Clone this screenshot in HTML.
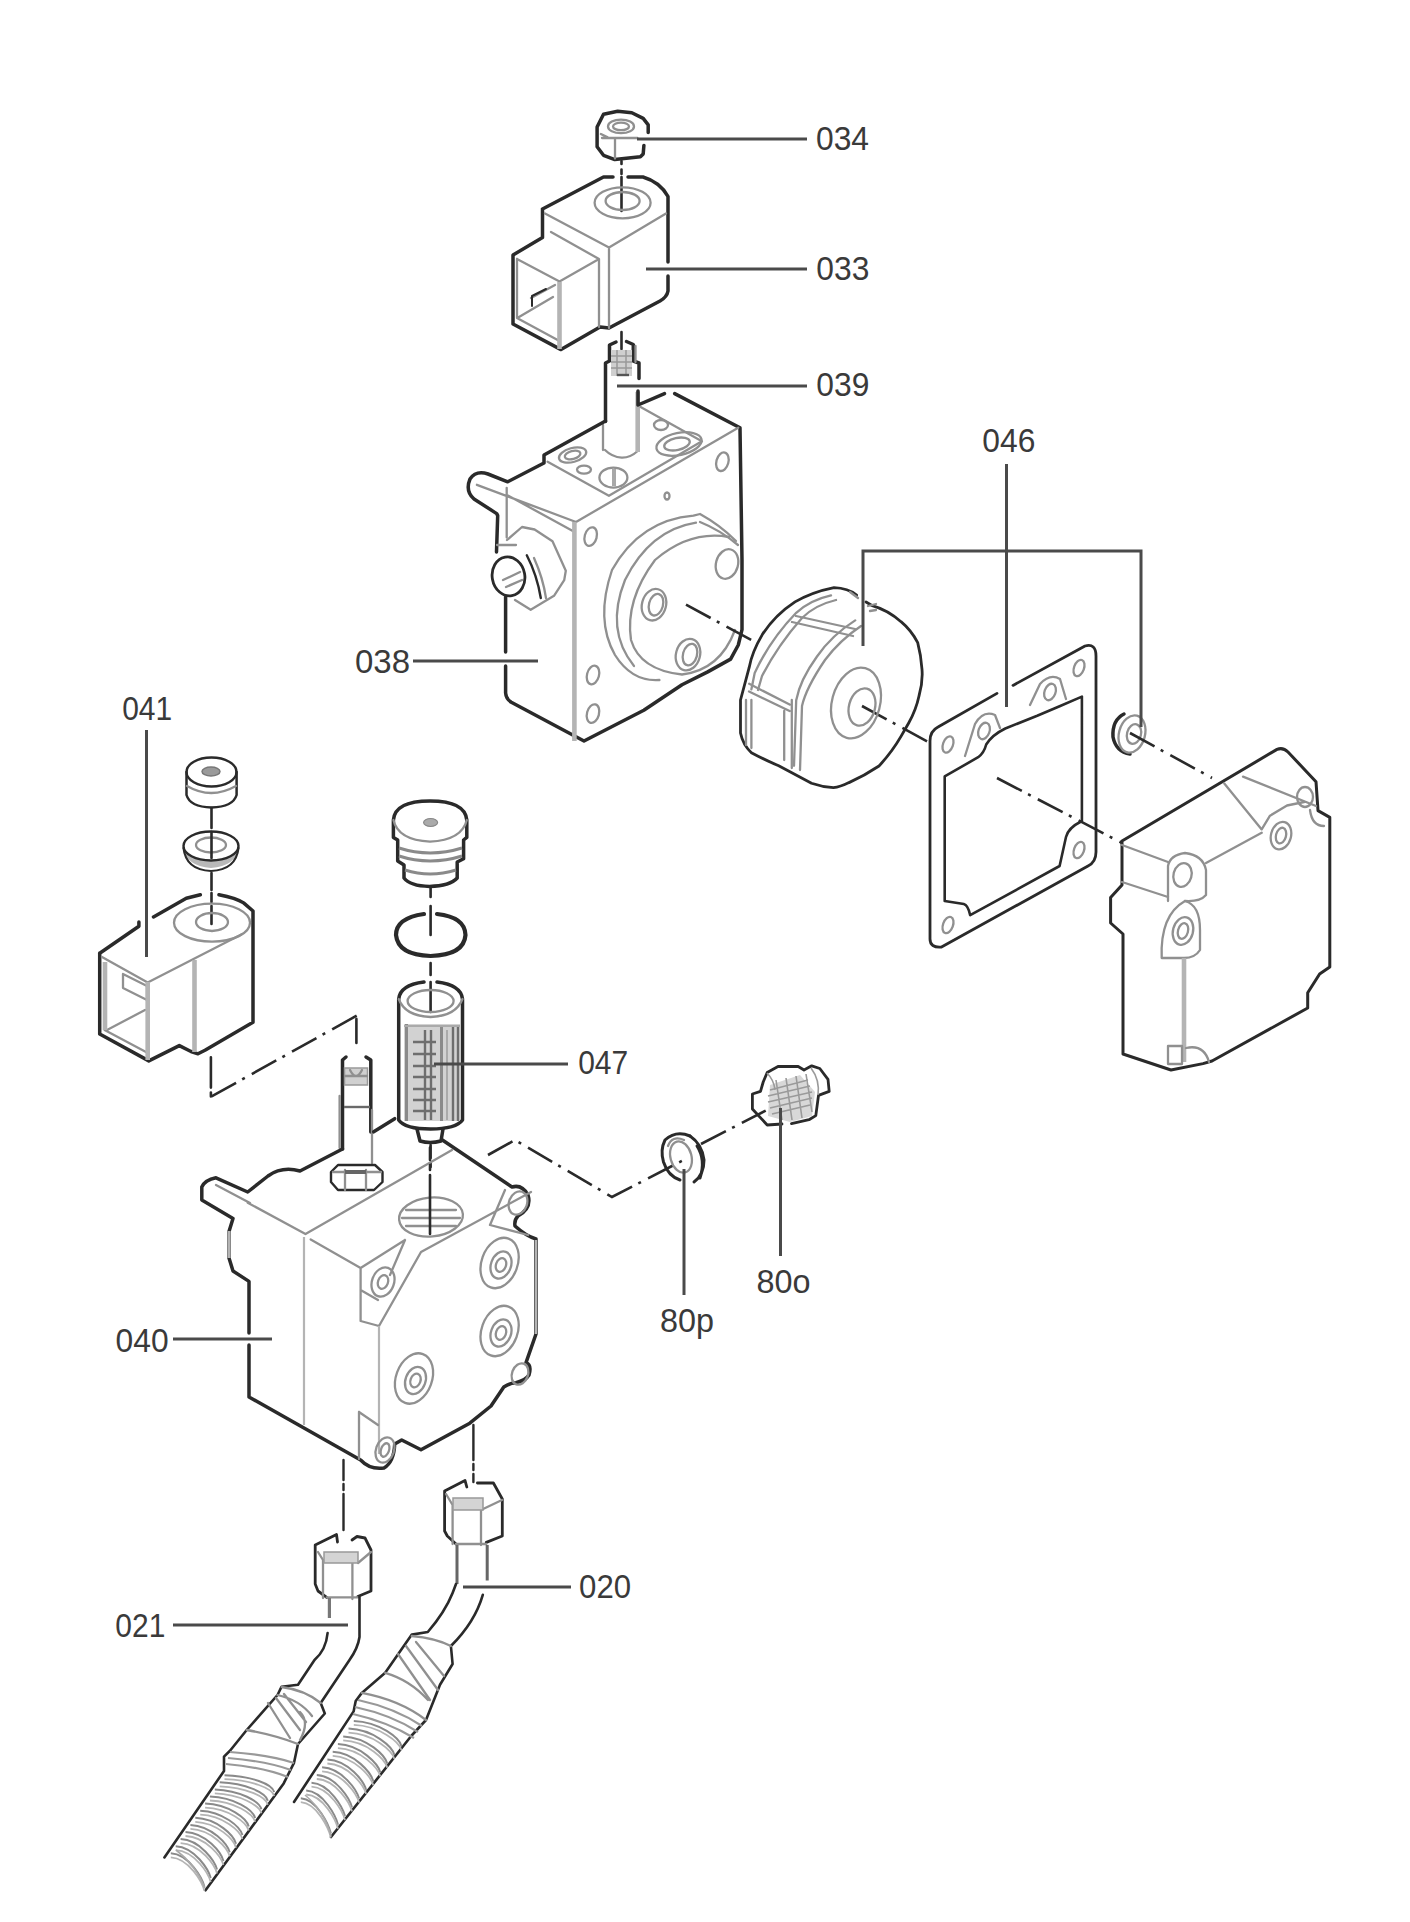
<!DOCTYPE html>
<html><head><meta charset="utf-8">
<style>
html,body{margin:0;padding:0;background:#fff;}
body{width:1410px;height:1922px;overflow:hidden;}
svg{display:block;}
.o{fill:none;stroke:#2a2a2a;stroke-width:3.5;stroke-linejoin:round;stroke-linecap:round;}
.f{fill:#fff;stroke:#1c1c1c;stroke-width:3.2;stroke-linejoin:round;stroke-linecap:round;}
.i{fill:none;stroke:#909090;stroke-width:2.3;stroke-linejoin:round;stroke-linecap:round;}
.g{fill:none;stroke:#b4b4b4;stroke-width:4.6;stroke-linecap:butt;}
.l{fill:none;stroke:#4a4a4a;stroke-width:3;}
.c{fill:none;stroke:#2a2a2a;stroke-width:2.6;stroke-dasharray:28 7 3 8;}
text{font-family:"Liberation Sans",sans-serif;font-size:33px;fill:#3a3a3a;}
</style></head><body>
<svg width="1410" height="1922" viewBox="0 0 1410 1922">

<!-- 034 NUT -->
<g id="p034">
<path class="o" d="M648.2 132.6 V124.8 L643.2 118.4 L631.8 112.8 L617.7 111.3 L603.5 114.2 L597.1 127 V146.8 L603.5 155.3 L614.8 159.6 L640.4 156.7 L643.2 153.9 L643.9 145.4"/>
<ellipse class="i" cx="621" cy="126.4" rx="13" ry="6.8"/>
<ellipse class="i" cx="621" cy="126.4" rx="8" ry="3.8"/>
<path class="i" d="M602 138 H637.4 M615 139 V158.5 M600.9 134 L607.7 137.4"/>
</g>
<!-- center line top -->
<path class="o" style="stroke-width:2.6" d="M621.5 161V164 M621.5 169.5V174 M621.5 177V211 M621.5 332V349"/>
<!-- 033 COIL -->
<g id="p033">
<path class="o" d="M542.5 209 L603.5 177 L613 177 M628 177 L643 177 Q660 182 668 196.5 L668 262 M668 276 L668 291 Q667 297 660 301 L609 328 L600 327 L561 349.6 L513 324 L513 255 L542.5 237.6 L542.5 209"/>
<path class="i" d="M545 213.5 L609 247.5 L666 213.5 M609 247.5 V328 M551 232 L599 259 V327 M517 259 L559.5 281.5 L599 259 M517 259 V318 L559.5 341 M531 298 L555 285 M519 317 L553 297"/>
<path class="g" d="M559.5 282 V349"/>
<ellipse class="i" cx="622.6" cy="202.8" rx="28" ry="15.5"/>
<ellipse class="i" cx="622.6" cy="201" rx="17" ry="9"/>
<path class="o" style="stroke-width:2" d="M532 306 L532 296 L546 289"/>
</g>
<!-- 039 STEM -->
<g id="p039">
<path class="o" d="M616 342 L609.5 345 V361 L605.5 363 V421.5"/>
<path class="o" d="M626.5 341.5 L633.3 344.5 V361 L639 363 V378.6"/>
<rect x="611" y="350" width="21" height="26" fill="#cfcfcf" stroke="none"/>
<path fill="none" stroke="#999" stroke-width="1.5" d="M611 356 H632 M611 362 H632 M611 368 H632 M617 350 V376 M626 350 V376"/>
<path fill="none" stroke="#555" stroke-width="2.4" d="M617 375 H629"/>
<path class="i" d="M635.5 346 V362 M603 425 V450 M637.7 391.7 V451 Q630 458 621.7 457.7 Q612 457 605 450"/>
<path class="g" d="M637.7 392 V452"/>
</g>
<!-- 038 PUMP -->
<g id="p038">
<path class="o" d="M605.5 421 L544 455 L544 463 L507.7 481.8 L488 474 Q476 470 470 479 Q465 491 474 499 L496.7 513.6 L497.7 515.6 L496.5 552"/>
<path class="o" d="M505.6 597 V652 M505.6 666 V693 Q506 699 511.3 702.3 L584 741 L643.8 710.2 L682 684.7 L707.7 671.9 L730.6 659.1 L738.3 645 L742 629.7 L742 560 L740 427.7 L674.7 393.6 M664.5 393.6 L638 405 V391"/>
<ellipse class="o" style="stroke-width:2.8" cx="508.5" cy="576.4" rx="16.3" ry="19.6" transform="rotate(-10 508.5 576.4)"/>

<path class="i" d="M507 540 L522 527 L534.6 529.5 L552.5 541.2 L565.8 570.8 L564.2 580.2 L554 595.8 L530.7 609.8 L515 600 M497 545 H516 M503 580 L520 572 M506 587 L522 580"/>
<path class="o" style="stroke-width:2.4" d="M526.8 555.2 Q537 575 540.8 598"/><path class="i" d="M534 558 Q543 578 546 598"/>
<path class="i" d="M476.9 484.8 L576 522 L738.2 427.7 M507.9 495.5 L574.2 531.7 M506.7 487.8 V537.5 M547.6 461.7 L608.9 495.8 L701.9 441.3 M640.6 407 L701.9 441.3"/>
<path class="g" d="M574.4 522 V741"/><ellipse class="i" cx="667" cy="496" rx="2.5" ry="3.5"/>
<ellipse class="i" cx="572.6" cy="455" rx="14" ry="7" transform="rotate(-15 572.6 455)"/>
<ellipse class="i" cx="572.6" cy="455" rx="8" ry="4" transform="rotate(-15 572.6 455)"/>
<ellipse class="i" cx="584" cy="469.6" rx="7" ry="4"/>
<ellipse class="i" cx="613.4" cy="477.6" rx="14" ry="10"/>
<path fill="none" stroke="#a8a8a8" stroke-width="4" d="M614 469 V486"/>
<ellipse class="i" cx="679" cy="444" rx="23" ry="11" transform="rotate(-12 679 444)"/>
<ellipse class="i" cx="677" cy="444" rx="13" ry="6" transform="rotate(-12 677 444)"/>
<ellipse class="i" cx="661" cy="425" rx="7" ry="5"/>
<ellipse class="i" cx="590.7" cy="536.6" rx="6" ry="9.5" transform="rotate(15 590.7 536.6)"/>
<ellipse class="i" cx="722.4" cy="461.7" rx="6" ry="9.5" transform="rotate(15 722.4 461.7)"/>
<ellipse class="i" cx="593" cy="675" rx="6" ry="9.5" transform="rotate(15 593 675)"/>
<ellipse class="i" cx="593" cy="713.6" rx="6" ry="9.5" transform="rotate(15 593 713.6)"/>
<path class="i" d="M693.5 515.6 Q640 520 612 570 Q595 620 615 655 Q632 682 659.4 680 M693.5 515.6 L700 514 Q720 525 736 541"/>
<path class="i" d="M696 522.7 Q650 530 625 580 Q605 630 634 666 M700 522 Q720 530 738 545"/>
<path class="i" d="M729 537 Q690 530 655 560 Q625 600 631 640 Q640 670 682 674.5 Q720 670 735 630"/>
<ellipse class="i" cx="654" cy="604.7" rx="12" ry="16" transform="rotate(15 654 604.7)"/>
<ellipse class="i" cx="656" cy="604.7" rx="7" ry="11" transform="rotate(15 656 604.7)"/>
<ellipse class="i" cx="727" cy="564" rx="11" ry="15" transform="rotate(15 727 564)"/>
<ellipse class="i" cx="688" cy="654.6" rx="12" ry="16" transform="rotate(15 688 654.6)"/>
<ellipse class="i" cx="690" cy="654.6" rx="7" ry="11" transform="rotate(15 690 654.6)"/>
</g>
<path class="c" d="M686 604.7 L757 643 M862 706 L932 744"/>

<!-- 046 COUPLING -->
<g id="coupling">
<path class="o" style="stroke-width:2.8" d="M856.6 595 Q848 588 834 587.6 Q812 592 795 601.9 Q775 615 762.3 634.6 Q752 652 749.2 667.4 L740.5 700 V733 Q743 745 751.4 752.7 Q765 760 778.7 765.8 L811.5 783.3 Q822 787 833.4 787.7 Q840 787 849 782.6 Q864 776 879 766 Q892 752 901 736.4 L908.7 723 Q916 710 919 696 Q923 682 922 669.4 Q921 655 917.7 642.6 Q911 630 901 621.7 Q888 610 871.5 605.3 L866 602"/>
<path class="i" d="M831 595.3 Q810 600 796.2 612.8 Q770 640 754.7 672.9 L751.4 689.3 M836 600 Q815 605 802 618 Q778 645 762 676 L758 690"/>
<path class="i" d="M855.2 620.4 Q832 635 817 656.5 Q800 680 796.2 700.2 L794 765.8 M861 626 Q840 640 825 660 Q806 688 802 706 L800 770"/>
<path class="i" d="M796 616 L855 629 M792 622 L853 636 M749.2 683.8 L789.6 704.6 M749 691.5 L789.6 711 M784.2 711 V760 M791.8 700 V768 M746 700 V745 M751.4 700 V748 M850 592 L858 598 M868 606 L876 604 M870 611 L876 610"/>
<ellipse class="i" cx="856" cy="703" rx="24" ry="36" transform="rotate(15 856 703)"/>
<ellipse class="i" cx="862" cy="707" rx="13" ry="19" transform="rotate(15 862 707)"/>
</g>
<!-- GASKET -->
<g id="gasket">
<path class="o" style="stroke-width:2.8" d="M997 693.4 L938 727 Q930 731 930 741 V939 Q930 948 941.5 947 L1088 866 Q1096 862 1096 852 V656 Q1096 643 1085 646 L1013 685.4"/>
<path class="o" style="stroke-width:2.6" d="M944.7 776.4 L978.2 757.2 Q984 753 986.2 744.5 Q992 735 1005.3 728.5 L1037.2 715.8 L1059.6 706.2 L1081.9 696.6 V821 Q1068 828 1066 837 L1059.6 866 L970.2 915.2 Q968 905 963.8 904 L944.7 901 Z"/>
<ellipse class="i" cx="948" cy="744.5" rx="5" ry="8.5" transform="rotate(20 948 744.5)"/>
<ellipse class="i" cx="1079" cy="668" rx="5" ry="8.5" transform="rotate(20 1079 668)"/>
<ellipse class="i" cx="948" cy="925" rx="5" ry="8.5" transform="rotate(20 948 925)"/>
<ellipse class="i" cx="1079" cy="850" rx="5" ry="8.5" transform="rotate(20 1079 850)"/>
<path class="i" d="M965 756 L975 724 Q983 710 995 715 L1000 728 M1030 705 L1040 684 Q1050 673 1060 679 L1066 699"/>
<ellipse class="i" cx="984" cy="731" rx="5.5" ry="8.5" transform="rotate(20 984 731)"/>
<ellipse class="i" cx="1050" cy="692" rx="5.5" ry="8.5" transform="rotate(20 1050 692)"/>
</g>
<path class="c" d="M997 778 L1122 843"/>
<!-- 046 WASHER -->
<g id="washer046">
<path class="o" d="M1124 714 Q1112 720 1113 737 Q1116 752 1130 754"/>
<ellipse class="i" cx="1132" cy="734" rx="13" ry="19" transform="rotate(15 1132 734)"/>
<ellipse class="i" cx="1134" cy="734" rx="7" ry="10" transform="rotate(15 1134 734)"/>
</g>
<path class="c" d="M1130 733 L1212 778"/>
<!-- HOUSING -->
<g id="housing">
<path class="o" style="stroke-width:3" d="M1122 841 L1277 749.4 Q1283 747 1288 752 L1316 781.7 L1318 810.6 L1329.8 817.4 V967 L1319.6 974 L1307.7 992.8 V1008 L1212 1061 L1203 1063.6 L1171 1070 L1123 1054 V934 L1110.6 923 V897.6 L1122 885 Z"/>
<path class="i" d="M1122 845 L1168 862 M1206 863 L1261.7 832.8 M1224.3 783.4 L1261.7 829.4 L1270 815.7 L1287 805.5 L1304 802 M1243 776.6 L1316 806 M1122 882 L1168 897"/>
<path class="i" d="M1168 901 V866 Q1170 855 1185 853 Q1203 855 1206 870 V895 Q1200 902 1185 901"/>
<path class="i" d="M1161.7 958 Q1160 915 1185 901 Q1200 905 1200 930 V950 Q1195 958 1184 958 Z"/>
<ellipse class="i" cx="1182.5" cy="875" rx="9" ry="12" transform="rotate(15 1182.5 875)"/>
<ellipse class="i" cx="1183" cy="931" rx="10" ry="14" transform="rotate(15 1183 931)"/>
<ellipse class="i" cx="1183" cy="931" rx="5" ry="8" transform="rotate(15 1183 931)"/>
<ellipse class="i" cx="1281" cy="835.6" rx="10" ry="14" transform="rotate(15 1281 835.6)"/>
<ellipse class="i" cx="1281" cy="835.6" rx="5" ry="8" transform="rotate(15 1281 835.6)"/>
<ellipse class="i" cx="1305" cy="797" rx="8" ry="10"/>
<path class="i" d="M1310 810 Q1312 826 1324 826"/>
<path class="g" d="M1184 958 V1062"/>
<path class="i" d="M1168 1046 V1064 H1182 V1046 Z M1186 1048 Q1204 1044 1209 1062"/>
</g>
<!-- 041 NUT + WASHER -->
<g id="p041">
<path class="o" style="stroke-width:2.5" d="M186.5 772 V795 Q190 807 211.5 807.5 Q233 807 236.6 795 V772"/>
<ellipse class="o" style="stroke-width:2.4" cx="211.5" cy="772" rx="25" ry="14.5"/>
<path class="i" d="M187 786 Q211 800 236 786"/>
<ellipse cx="211" cy="771.5" rx="9" ry="4.5" fill="#9a9a9a" stroke="#777" stroke-width="1.5"/>
<path d="M183.5 848 Q186 866 211 868 Q236 866 238.5 848 Z" fill="#b8b8b8" stroke="none"/>
<path class="o" style="stroke-width:2.2" d="M183.5 848 Q186 870 211 871 Q236 870 238.5 848"/>
<ellipse class="o" style="fill:#fff;stroke-width:2.4" cx="211" cy="846" rx="27.5" ry="14.5"/>
<ellipse class="i" cx="211" cy="845" rx="15" ry="7.5"/>
<path class="o" style="stroke-width:2.6" d="M211.5 808V828 M211.5 832V858 M211.5 873V890 M211.5 893V902 M211.5 906V924"/>
<!-- coil 041 -->
<path class="o" d="M99.7 953.2 L138.9 926.3 V922 M153.5 917 L186.3 898.2 L200.3 894.7 M219 894.7 Q236 898 243.6 902.9 L253 911 V1022.2 L205 1050.3 L198 1053.8 L191 1051.5 L179.3 1045.6 L148.8 1060.9 L99.7 1034 V953"/>
<path class="i" d="M102 957 L147.7 982.5 L241.3 934.5 M104.6 1030 L146 1052 M107 1030 L145 1010 M123 974 L147 986 L147 1000 L123 988 Z"/>
<path class="g" d="M147.7 982 V1060 M194.5 960 V1052 M105 962 V1030"/>
<ellipse class="i" cx="212" cy="922.7" rx="38" ry="19"/>
<ellipse class="i" cx="212" cy="922" rx="16" ry="9"/>
<path class="o" style="stroke-width:2.6" d="M210.9 1057.3 V1087.6 M210.9 1092.5 V1096.4"/><path class="c" d="M211.6 1096.4 L357 1015.5"/><path class="o" style="stroke-width:2.6" d="M356.4 1018.9 V1043"/>
</g>
<!-- 047 FILTER -->
<g id="p047">
<path class="o" d="M393.4 820 Q395 801 430 801 Q465 801 466.8 820 V837.4 L463.6 840 V858.7 L457.2 862 V878 Q450 886 429.6 886.4 Q410 886 404 878 V865 L397.7 861 V840 L393.4 837.4 Z"/>
<path class="i" d="M393.4 820 Q398 840 430 841.7 Q462 840 466.8 820"/>
<path fill="none" stroke="#8a8a8a" stroke-width="3" d="M399 848 Q430 858 462 848 M399 856 Q430 866 462 856 M405 870 Q430 878 456 870"/>
<ellipse cx="430.6" cy="822.5" rx="7" ry="4" fill="#aaa" stroke="#888" stroke-width="1.2"/>
<path class="o" style="stroke-width:2.6" d="M430.6 887V897 M430.6 906V935 M430.6 963V975 M430.6 982V1012 M430.6 1145V1158 M430.6 1163V1167"/>
<path class="o" style="stroke-width:4.2" d="M424 914 Q396 918 396 935 Q398 955 430.6 956 Q464 955 465.5 935 Q465 917 437 914"/>
<path class="o" d="M424 982 Q400 985 398.7 999 V1120 Q405 1129 430.6 1129 Q456 1129 462.5 1120 V999 Q461 985 437 982"/>
<ellipse class="i" cx="430.6" cy="1001" rx="23" ry="11"/>
<path class="i" d="M398.7 999 Q405 1016 430.6 1017 Q456 1016 462.5 999"/>
<rect x="404" y="1024" width="56" height="97" fill="#d2d2d2" stroke="none"/>
<path fill="none" stroke="#8a8a8a" stroke-width="3" d="M406.5 1024V1121 M441.5 1026V1121"/>
<path fill="none" stroke="#6e6e6e" stroke-width="2.4" d="M425 1030V1120 M431 1030V1120 M453 1026V1121 M458 1026V1121 M413 1042H436 M413 1054H436 M413 1066H436 M413 1077H436 M413 1089H436 M413 1100H436 M413 1111H436"/>
<path fill="none" stroke="#aaaaaa" stroke-width="2" d="M404 1026H460 M447 1030V1120"/>
<path class="o" d="M417 1129 L420 1141 Q430 1144 441 1141 L443 1129"/>
</g>

<!-- 040 PUMP -->
<g id="p040">
<path class="o" d="M342.5 1149 V1060 L346 1057 M366 1057 L370.8 1060 V1132"/>
<rect x="344.5" y="1068" width="23" height="17" fill="#d0d0d0" stroke="#999" stroke-width="1.5"/>
<path class="i" d="M350 1070 Q356 1082 362 1070 M345 1076 H367"/>
<path fill="none" stroke="#6a6a6a" stroke-width="2.4" d="M344 1107 H370"/>
<path class="i" d="M339.6 1096 V1148 M372 1110 V1163"/>
<path class="o" style="stroke-width:2.4" d="M331 1172 L338 1165 H375 L382.5 1172 V1182 L374 1190 H338 L331 1182 Z"/>
<path class="i" d="M345 1170 V1190 M366 1170 V1190 M333 1172 H381"/>
<rect x="345" y="1170" width="21" height="4" fill="#666" stroke="none"/>
<path class="o" d="M342.5 1149 L300 1171 Q282 1166 268 1176 L247.7 1192 L216 1177.8 Q205 1180 201.8 1187 V1200 L233 1218.4 L229 1231.5 V1258 L233 1271 L249 1281.4 V1333 M249 1345 V1397 L360.6 1460 Q370 1470 384 1468 Q394 1462 394.7 1444 L401.7 1440 L421 1449.8 L469.8 1423.2 L491 1406 L503.8 1387 Q510 1383 516 1382.8 Q526 1380 529 1375 Q532 1365 526 1362.7 L536 1334 V1239 Q526 1236 515 1226 Q514 1220 518 1216 Q532 1208 528 1195 Q522 1184 512 1187 L442 1139.7"/>
<path class="o" d="M394.7 1118.7 L373.7 1131.8"/>
<path class="i" d="M247.7 1202.7 L305.5 1234 L452 1150 M216 1185 L250 1203 M310.7 1239.4 L360.6 1268 L405 1240 M360.6 1268 V1321 L379 1326 L421 1252 M421 1252 L531 1192 M405 1240 L390 1275 M360.6 1290 L378 1300 M505 1190 L490 1225 L528 1235"/>
<path class="g" style="stroke-width:2.2" d="M304 1237 V1425 M379 1326 V1454 M536 1240 V1334"/>
<path class="g" style="stroke-width:3" d="M229 1231 V1258"/>
<ellipse class="i" cx="431" cy="1217" rx="32" ry="19.5" transform="rotate(-5 431 1217)"/>
<path class="i" d="M406 1210 H456 M402 1218 H460 M406 1226 H456"/>
<ellipse class="i" cx="499.6" cy="1263" rx="18" ry="26" transform="rotate(20 499.6 1263)"/>
<ellipse class="i" cx="501" cy="1265" rx="10" ry="14" transform="rotate(20 501 1265)"/>
<ellipse class="i" cx="501" cy="1265" rx="5" ry="7" transform="rotate(20 501 1265)"/>
<ellipse class="i" cx="499.6" cy="1331" rx="18" ry="26" transform="rotate(20 499.6 1331)"/>
<ellipse class="i" cx="501" cy="1333" rx="10" ry="14" transform="rotate(20 501 1333)"/>
<ellipse class="i" cx="501" cy="1333" rx="5" ry="7" transform="rotate(20 501 1333)"/>
<ellipse class="i" cx="414" cy="1378.5" rx="18" ry="26" transform="rotate(20 414 1378.5)"/>
<ellipse class="i" cx="415.5" cy="1380.5" rx="10" ry="14" transform="rotate(20 415.5 1380.5)"/>
<ellipse class="i" cx="415.5" cy="1380.5" rx="5" ry="7" transform="rotate(20 415.5 1380.5)"/>
<ellipse class="i" cx="383" cy="1282" rx="11" ry="15" transform="rotate(20 383 1282)"/>
<ellipse class="i" cx="383" cy="1282" rx="5" ry="7" transform="rotate(20 383 1282)"/>
<ellipse class="i" cx="385" cy="1450" rx="9" ry="13" transform="rotate(20 385 1450)"/><ellipse class="i" cx="385" cy="1450" rx="4" ry="7" transform="rotate(20 385 1450)"/><path class="i" d="M359 1412 V1459 M359 1412 L378 1425"/>
<ellipse class="i" cx="520" cy="1374" rx="8" ry="11" transform="rotate(20 520 1374)"/>
<ellipse class="i" cx="518" cy="1203" rx="9" ry="12" transform="rotate(20 518 1203)"/>
<path class="o" style="stroke-width:2.6" d="M430 1147.6 V1160 M430 1165 V1170 M430 1175 V1234"/>
<path class="o" style="stroke-width:2.4" d="M343.5 1460 V1480 M343.5 1484 V1490 M343.5 1494 V1530 M473.4 1425 V1460 M473.4 1464 V1470 M473.4 1474 V1482"/>
</g>
<!-- dash line pump to fittings -->
<path class="c" d="M488 1155 L515 1140 L612 1197 L687.5 1158 M701 1144 L765.7 1110.6"/>
<!-- 80p washer -->
<g id="p80p">
<path class="o" style="stroke-width:3" d="M690 1136 Q676 1130 665 1140 Q660 1150 663.5 1162 Q668 1176 680 1180"/>
<path class="o" style="stroke-width:3" d="M690 1136 Q702 1144 704 1160 Q704 1175 694 1182 M697 1146 Q706 1160 700 1178"/>
<ellipse class="i" cx="681" cy="1157" rx="10.5" ry="16" transform="rotate(-15 681 1157)"/>
<path class="i" d="M668 1146 Q672 1135 684 1140"/>
</g>
<!-- 80o fitting -->
<g id="p80o">
<path d="M770 1085 L800 1075 L815 1092 L812 1116 L790 1122 L768 1116 Z" fill="#d8d8d8" stroke="none"/>
<path class="o" style="stroke-width:2.8" d="M767.2 1072.5 L778 1066.5 H798.2 L804 1070 L811.7 1065.8 L819.8 1068.5 L828 1079.3 L829.2 1091.4 L818.5 1095.4 L815.8 1115.6 L809 1119.7 L791.5 1123.7 M782 1124 L767.2 1125 L752.4 1109 V1094 L760.5 1091.4 L763.2 1082 L767.2 1072.5"/>
<path fill="none" stroke="#9a9a9a" stroke-width="1.6" d="M770 1090 L808 1080 M768 1096 L810 1086 M768 1102 L812 1092 M770 1108 L812 1098 M772 1114 L810 1105 M776 1080 L782 1120 M786 1078 L792 1120 M796 1076 L802 1118 M806 1074 L812 1112 M811 1068 Q820 1080 818 1095 M767 1073 Q774 1080 775 1090"/>
</g>
<!-- 021 HOSE -->
<g id="h021">
<path class="o" style="stroke-width:2.8" d="M315.2 1584 V1545 L336.5 1534.5 L337.5 1542 M352 1540 L357 1536.5 L365 1538 L371 1550 V1591 L357.8 1596.5 M326.7 1597.4 L318 1591 L315.2 1584"/>
<path class="i" d="M323 1560 V1598 M352.4 1563 V1599 M326.7 1597.4 H357.8 M318 1552 L323 1560 M371 1552 L358 1563"/>
<rect x="324" y="1552" width="34" height="11" fill="#d4d4d4" stroke="#999" stroke-width="1.5"/>
<path class="g" style="stroke-width:3.2;stroke:#777" d="M329.4 1598 V1618"/>
<path class="o" style="stroke-width:2.6" d="M359.5 1597 V1637 Q358 1648 349.5 1660 L320.7 1703 L324.8 1713.5 L298 1744 L294 1762.8 L283.7 1783.4 L205.5 1890.3"/>
<path class="o" style="stroke-width:2.6" d="M327.6 1633 Q326 1650 314.5 1660 L298 1684.7 L281.6 1686.7 L277.5 1695 L246.7 1730 L230.2 1750.5 L224 1756.7 V1771 L164.4 1857.4"/>
<path class="i" d="M281.6 1687 Q305 1690 320.7 1703 M277.5 1695 Q300 1700 312 1716 M246.7 1730 Q275 1735 298 1744 M268 1703 L290 1738 M276 1698 L300 1730 M284 1694 L306 1722 M300 1712 Q310 1722 300 1740"/>
<path fill="none" stroke="#999" stroke-width="2.2" d="M230 1752 Q270 1755 294 1763 M228 1758 Q266 1761 291 1770 M226 1764 Q262 1767 288 1777"/>

<path fill="none" stroke="#8a8a8a" stroke-width="2.0" d="M224.5 1775.2 C251.8 1776.2 272.2 1784.0 274.2 1792.0 M219.7 1782.3 C246.1 1783.3 265.8 1792.7 267.8 1800.7 M214.8 1789.4 C240.4 1790.4 259.4 1801.3 261.4 1809.3 M209.9 1796.5 C234.8 1797.5 253.1 1809.9 255.1 1817.9 M205.1 1803.6 C229.1 1804.6 246.7 1818.5 248.7 1826.5 M200.2 1810.7 C223.4 1811.7 240.4 1827.1 242.4 1835.1 M195.3 1817.8 C217.7 1818.8 234.0 1835.7 236.0 1843.7 M190.4 1824.9 C212.0 1825.9 227.7 1844.3 229.7 1852.3 M185.5 1832.0 C206.3 1833.0 221.4 1852.9 223.4 1860.9 M180.6 1839.1 C200.6 1840.1 215.0 1861.5 217.0 1869.5 M175.7 1846.2 C195.0 1847.2 208.7 1870.1 210.7 1878.1 M170.8 1853.3 C189.3 1854.3 202.4 1878.7 204.4 1886.7"/><path fill="none" stroke="#b4b4b4" stroke-width="1.8" d="M224.5 1779.2 C251.8 1780.2 272.2 1788.0 274.2 1796.0 M219.7 1786.3 C246.1 1787.3 265.8 1796.7 267.8 1804.7 M214.8 1793.4 C240.4 1794.4 259.4 1805.3 261.4 1813.3 M209.9 1800.5 C234.8 1801.5 253.1 1813.9 255.1 1821.9 M205.1 1807.6 C229.1 1808.6 246.7 1822.5 248.7 1830.5 M200.2 1814.7 C223.4 1815.7 240.4 1831.1 242.4 1839.1 M195.3 1821.8 C217.7 1822.8 234.0 1839.7 236.0 1847.7 M190.4 1828.9 C212.0 1829.9 227.7 1848.3 229.7 1856.3 M185.5 1836.0 C206.3 1837.0 221.4 1856.9 223.4 1864.9 M180.6 1843.1 C200.6 1844.1 215.0 1865.5 217.0 1873.5 M175.7 1850.2 C195.0 1851.2 208.7 1874.1 210.7 1882.1 M170.8 1857.3 C189.3 1858.3 202.4 1882.7 204.4 1890.7"/><path fill="none" stroke="#aaa" stroke-width="1.6" d="M176 1850 Q196 1865 205 1888"/>
</g>
<!-- 020 HOSE -->
<g id="h020">
<path class="o" style="stroke-width:2.8" d="M444.6 1531 V1491 L465 1480.4 L466.8 1487 M477.4 1483 L493.4 1483 L502.3 1499 V1536 L486.3 1542.4 M456 1544 L447.3 1536 L444.6 1531"/>
<path class="i" d="M452.6 1505 V1544 M481 1510 V1545 M456 1544 H486.3 M446 1494 L452.6 1505 M502 1500 L481 1510"/>
<rect x="453" y="1498" width="30" height="12" fill="#d4d4d4" stroke="#999" stroke-width="1.5"/>
<path class="g" style="stroke-width:3;stroke:#666" d="M457 1545 V1584 M487.2 1545 V1580.6"/>
<path class="o" style="stroke-width:2.6" d="M456 1584 L452.6 1593 Q445 1612 427.8 1632 L411.8 1634.6 L385.2 1672.8 L361.8 1692.9 L355.7 1701 L353.6 1711.4 L294 1802"/>
<path class="o" style="stroke-width:2.6" d="M482.8 1594.8 Q475 1622 450.9 1646 L452.6 1664 L440 1684.7 L426 1720 L411.2 1736 L331 1837"/>
<path class="i" d="M411.8 1636 Q435 1638 450.9 1646 M398 1654 L430 1700 M406 1646 L438 1690 M416 1642 L444 1676 M385.2 1672.8 Q410 1680 428 1700 M361.8 1692.9 Q400 1700 426 1720"/>
<path fill="none" stroke="#999" stroke-width="2.2" d="M358 1700 Q395 1708 422 1726 M355 1707 Q392 1715 418 1732 M353 1714 Q388 1722 414 1738"/>

<path fill="none" stroke="#8a8a8a" stroke-width="2.0" d="M353.8 1720.9 C380.0 1721.9 399.5 1738.2 401.5 1746.2 M348.5 1728.6 C373.7 1729.6 392.4 1747.0 394.4 1755.0 M343.2 1736.4 C367.5 1737.4 385.3 1755.7 387.3 1763.7 M337.9 1744.1 C361.2 1745.1 378.3 1764.4 380.3 1772.4 M332.7 1751.8 C355.0 1752.8 371.2 1773.2 373.2 1781.2 M327.4 1759.5 C348.7 1760.5 364.1 1781.9 366.1 1789.9 M322.1 1767.3 C342.4 1768.3 357.1 1790.6 359.1 1798.6 M316.8 1775.0 C336.2 1776.0 350.0 1799.4 352.0 1807.4 M311.5 1782.7 C329.9 1783.7 343.0 1808.1 345.0 1816.1 M306.2 1790.5 C323.7 1791.5 336.0 1816.8 338.0 1824.8 M300.8 1798.2 C317.4 1799.2 328.9 1825.5 330.9 1833.5"/><path fill="none" stroke="#b4b4b4" stroke-width="1.8" d="M353.8 1724.9 C380.0 1725.9 399.5 1742.2 401.5 1750.2 M348.5 1732.6 C373.7 1733.6 392.4 1751.0 394.4 1759.0 M343.2 1740.4 C367.5 1741.4 385.3 1759.7 387.3 1767.7 M337.9 1748.1 C361.2 1749.1 378.3 1768.4 380.3 1776.4 M332.7 1755.8 C355.0 1756.8 371.2 1777.2 373.2 1785.2 M327.4 1763.5 C348.7 1764.5 364.1 1785.9 366.1 1793.9 M322.1 1771.3 C342.4 1772.3 357.1 1794.6 359.1 1802.6 M316.8 1779.0 C336.2 1780.0 350.0 1803.4 352.0 1811.4 M311.5 1786.7 C329.9 1787.7 343.0 1812.1 345.0 1820.1 M306.2 1794.5 C323.7 1795.5 336.0 1820.8 338.0 1828.8 M300.8 1802.2 C317.4 1803.2 328.9 1829.5 330.9 1837.5"/><path fill="none" stroke="#aaa" stroke-width="1.6" d="M305 1795 Q325 1812 331 1836"/>
</g>
<!-- LABELS -->
<g id="labels">
<text x="816" y="150" textLength="53" lengthAdjust="spacingAndGlyphs">034</text>
<text x="816.3" y="279.5" textLength="53" lengthAdjust="spacingAndGlyphs">033</text>
<text x="816.3" y="396" textLength="53" lengthAdjust="spacingAndGlyphs">039</text>
<text x="982.3" y="451.5" textLength="53" lengthAdjust="spacingAndGlyphs">046</text>
<text x="355" y="672.5" textLength="55" lengthAdjust="spacingAndGlyphs">038</text>
<text x="122.2" y="719.5" textLength="50" lengthAdjust="spacingAndGlyphs">041</text>
<text x="578.2" y="1074" textLength="50" lengthAdjust="spacingAndGlyphs">047</text>
<text x="115.6" y="1352" textLength="53" lengthAdjust="spacingAndGlyphs">040</text>
<text x="660.1" y="1331.5" textLength="54" lengthAdjust="spacingAndGlyphs">80p</text>
<text x="756.6" y="1293" textLength="54" lengthAdjust="spacingAndGlyphs">80o</text>
<text x="579.1" y="1597.7" textLength="52" lengthAdjust="spacingAndGlyphs">020</text>
<text x="115.3" y="1637.4" textLength="50" lengthAdjust="spacingAndGlyphs">021</text>
</g>
<!-- LEADERS -->
<g class="l">
<path d="M637 139H807"/>
<path d="M646 269H807"/>
<path d="M617 386H807"/>
<path d="M1006.5 464V707"/>
<path d="M863 646V551H1141V727"/>
<path d="M413 661H538"/>
<path d="M146.5 730V957"/>
<path d="M434 1064H568"/>
<path d="M173 1339H272"/>
<path d="M684 1169V1295"/>
<path d="M780.5 1108V1256"/>
<path d="M463 1587H571"/>
<path d="M173 1625H348"/>
</g>
</svg>
</body></html>
